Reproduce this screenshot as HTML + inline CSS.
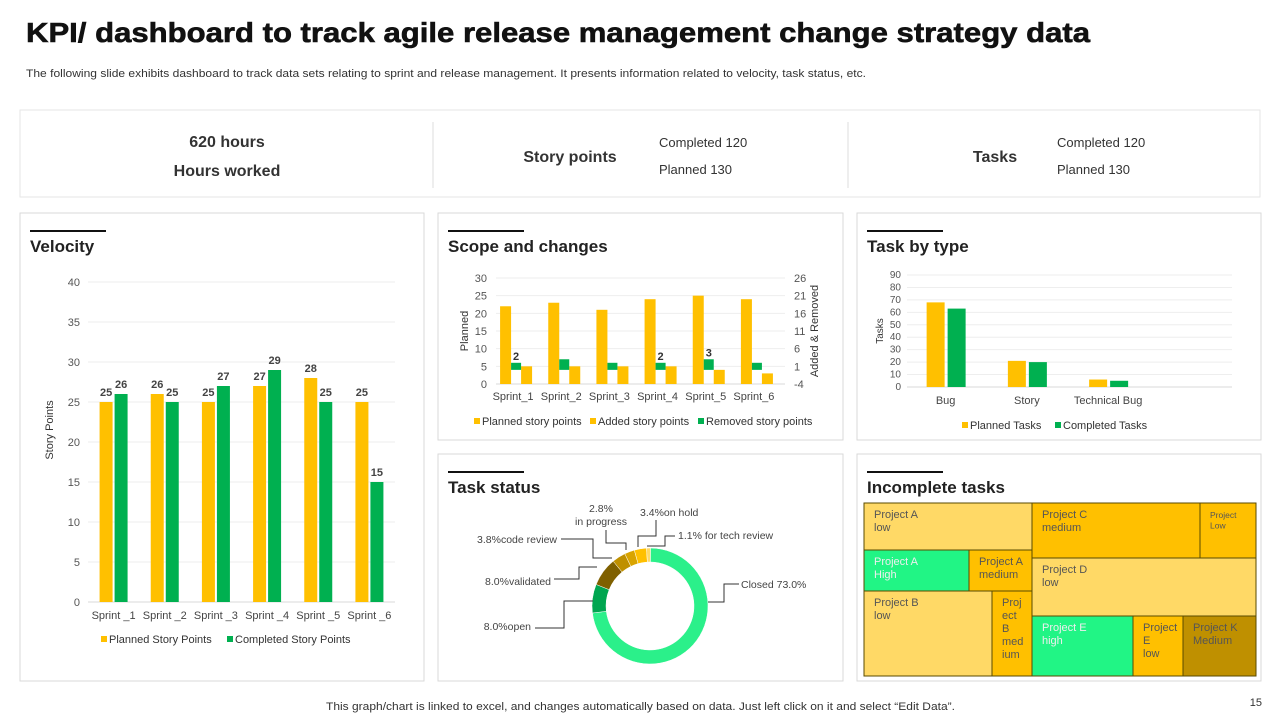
<!DOCTYPE html>
<html><head><meta charset="utf-8"><style>
body{margin:0;width:1280px;height:720px;background:#fff;font-family:"Liberation Sans",sans-serif;overflow:hidden}
svg text{font-family:"Liberation Sans",sans-serif}
</style></head><body>
<svg id="s" width="1280" height="720" viewBox="0 0 1280 720" xmlns="http://www.w3.org/2000/svg">
<text x="26" y="42" font-size="28" font-weight="bold" fill="#111" textLength="1064" lengthAdjust="spacingAndGlyphs" stroke="#111" stroke-width="0.6">KPI/ dashboard to track agile release management change strategy data</text>
<text x="26" y="77" font-size="11" fill="#333" textLength="840" lengthAdjust="spacingAndGlyphs">The following slide exhibits  dashboard to track data sets relating to sprint and release management. It presents information related to velocity, task status, etc.</text>
<g>
<rect x="20" y="110" width="1240" height="87" fill="#fff" stroke="#e6e6e6"/>
<line x1="433" y1="122" x2="433" y2="188" stroke="#ddd"/><line x1="848" y1="122" x2="848" y2="188" stroke="#ddd"/>
<text x="227" y="147" font-size="16" font-weight="bold" fill="#333" text-anchor="middle">620 hours</text>
<text x="227" y="176" font-size="16" font-weight="bold" fill="#333" text-anchor="middle">Hours worked</text>
<text x="570" y="162" font-size="16" font-weight="bold" fill="#333" text-anchor="middle">Story points</text>
<text x="659" y="147" font-size="13" fill="#333">Completed  120</text>
<text x="659" y="174" font-size="13" fill="#333">Planned  130</text>
<text x="995" y="162" font-size="16" font-weight="bold" fill="#333" text-anchor="middle">Tasks</text>
<text x="1057" y="147" font-size="13" fill="#333">Completed  120</text>
<text x="1057" y="174" font-size="13" fill="#333">Planned  130</text>
</g>
<g id="panels"></g>
<g id="charts"></g>
<text x="326" y="710" font-size="11" fill="#333" textLength="629" lengthAdjust="spacingAndGlyphs">This graph/chart is linked to excel, and changes automatically based on data. Just left click on it and select “Edit Data”.</text>
<text x="1262" y="706" font-size="11" fill="#333" text-anchor="end">15</text>
</svg>
<script>
const NS="http://www.w3.org/2000/svg";
function mk(parent,tag,attrs,txt){const e=document.createElementNS(NS,tag);for(const k in attrs)e.setAttribute(k,attrs[k]);if(txt!==undefined)e.textContent=txt;parent.appendChild(e);return e;}
const P=document.getElementById('panels'),C=document.getElementById('charts');
const YEL="#FFC000",GRN="#00B050";
// velocity data
const velCats=["Sprint _1","Sprint _2","Sprint _3","Sprint _4","Sprint _5","Sprint _6"];
const velPlanned=[25,26,25,27,28,25];
const velCompleted=[26,25,27,29,25,15];
const velTicks=[0,5,10,15,20,25,30,35,40];
// scope data
const scopeCats=["Sprint_1","Sprint_2","Sprint_3","Sprint_4","Sprint_5","Sprint_6"];
const scopePlanned=[22,23,21,24,25,24];
const scopeAdded=[5,5,5,5,4,3];
const scopeRemoved=[2,3,2,2,3,2];
const scopeLabels=["2","","","2","3",""];
const scopeLeftTicks=[0,5,10,15,20,25,30];
const scopeRightTicks=[-4,1,6,11,16,21,26];
// task type
const typeCats=["Bug","Story","Technical Bug",""];
const typePlanned=[68,21,6,0];
const typeCompleted=[63,20,5,0];
const typeTicks=[0,10,20,30,40,50,60,70,80,90];
// task status
const statusNames=["Closed","open","validated","code review","in progress","on hold","for tech review"];
const statusValues=[73.0,8.0,8.0,3.8,2.8,3.4,1.1];
const statusColors=["#2BF08A","#00A650","#7F6000","#BF9000","#D9A400","#FFC000","#FFD966"];

const panels=[["velocity-panel",20,213,404,468,"Velocity"],["scope-panel",438,213,405,227,"Scope and changes"],["task-type-panel",857,213,404,227,"Task by type"],["task-status-panel",438,454,405,227,"Task status"],["incomplete-panel",857,454,404,227,"Incomplete tasks"]];
panels.forEach(p=>{const g=mk(P,'g',{});

mk(g,'rect',{x:p[1],y:p[2],width:p[3],height:p[4],fill:'#fff',stroke:'#d9d9d9'});
mk(g,'line',{x1:p[1]+10,y1:p[2]+18,x2:p[1]+86,y2:p[2]+18,stroke:'#111','stroke-width':2});
const t=mk(g,'text',{x:p[1]+10,y:p[2]+39,'font-size':17,'font-weight':'bold',fill:'#222'},p[5]);
});

function legendItem(g,x,y,col,label,name){const r=mk(g,'rect',{x:x,y:y-7,width:6,height:6,fill:col});

const t=mk(g,'text',{x:x+8,y:y,'font-size':11,fill:'#333'},label);}

// Velocity
(function(){const g=mk(C,'g',{});
const y0=602,x0=88,x1=395,max=40,ppu=(602-282)/max;const y=v=>y0-v*ppu;const bw=(x1-x0)/velCats.length;
velTicks.forEach(t=>{mk(g,'line',{x1:x0,x2:x1,y1:y(t),y2:y(t),stroke:t?'#eee':'#d9d9d9'});const l=mk(g,'text',{x:80,y:y(t)+4,'font-size':11,fill:'#555','text-anchor':'end'},t);});
const at=mk(g,'text',{transform:'translate(53,430) rotate(-90)','font-size':11,fill:'#333','text-anchor':'middle'},'Story Points');
velCats.forEach((c,i)=>{const cx=x0+bw*(i+0.5);
const b1=mk(g,'rect',{x:cx-14,y:y(velPlanned[i]),width:13,height:y0-y(velPlanned[i]),fill:YEL});
const b2=mk(g,'rect',{x:cx+1,y:y(velCompleted[i]),width:13,height:y0-y(velCompleted[i]),fill:GRN});
const l1=mk(g,'text',{x:cx-7.5,y:y(velPlanned[i])-6,'font-size':11,'font-weight':'bold',fill:'#444','text-anchor':'middle'},velPlanned[i]);
const l2=mk(g,'text',{x:cx+7.5,y:y(velCompleted[i])-6,'font-size':11,'font-weight':'bold',fill:'#444','text-anchor':'middle'},velCompleted[i]);
const xl=mk(g,'text',{x:cx,y:619,'font-size':11,fill:'#444','text-anchor':'middle'},c);});
legendItem(g,101,643,YEL,'Planned Story Points','velocity-legend-planned');legendItem(g,227,643,GRN,'Completed Story Points','velocity-legend-completed');})();

// Scope
(function(){const g=mk(C,'g',{});
const y0=384,top=278,x0=496,x1=785;const yl=v=>y0-v*(y0-top)/30;const yr=v=>y0-(v+4)*(y0-top)/30;const bw=(x1-x0)/scopeCats.length;
scopeLeftTicks.forEach(t=>{mk(g,'line',{x1:x0,x2:x1,y1:yl(t),y2:yl(t),stroke:t?'#eee':'#d9d9d9'});const l=mk(g,'text',{x:487,y:yl(t)+4,'font-size':11,fill:'#555','text-anchor':'end'},t);});
scopeRightTicks.forEach(t=>{const l=mk(g,'text',{x:794,y:yr(t)+4,'font-size':11,fill:'#555'},t);});
const a1=mk(g,'text',{transform:'translate(468,331) rotate(-90)','font-size':11,fill:'#333','text-anchor':'middle'},'Planned');
const a2=mk(g,'text',{transform:'translate(818,331) rotate(-90)','font-size':11,fill:'#333','text-anchor':'middle'},'Added & Removed');
scopeCats.forEach((c,i)=>{const cx=x0+bw*(i+0.5)-4;
const b1=mk(g,'rect',{x:cx-16,y:yl(scopePlanned[i]),width:11,height:y0-yl(scopePlanned[i]),fill:YEL});
const b2=mk(g,'rect',{x:cx+5,y:yl(scopeAdded[i]),width:11,height:y0-yl(scopeAdded[i]),fill:YEL});
const b3=mk(g,'rect',{x:cx-5,y:yr(scopeRemoved[i]),width:10,height:yr(0)-yr(scopeRemoved[i]),fill:GRN});
if(scopeLabels[i]){const l=mk(g,'text',{x:cx,y:yr(scopeRemoved[i])-3,'font-size':11,'font-weight':'bold',fill:'#333','text-anchor':'middle'},scopeLabels[i]);}
const xl=mk(g,'text',{x:cx-3,y:400,'font-size':11,fill:'#444','text-anchor':'middle'},c);});
legendItem(g,474,425,YEL,'Planned story points','scope-legend-planned');legendItem(g,590,425,YEL,'Added story points','scope-legend-added');legendItem(g,698,425,GRN,'Removed story points','scope-legend-removed');})();

// Task by type
(function(){const g=mk(C,'g',{});
const y0=387,top=275,x0=907,x1=1232;const y=v=>y0-v*(y0-top)/90;const bw=(x1-x0)/typeCats.length;
typeTicks.forEach(t=>{mk(g,'line',{x1:x0,x2:x1,y1:y(t),y2:y(t),stroke:t?'#eee':'#d9d9d9'});const l=mk(g,'text',{x:901,y:y(t)+3,'font-size':10,fill:'#555','text-anchor':'end'},t);});
const a=mk(g,'text',{transform:'translate(883,331) rotate(-90)','font-size':10,fill:'#333','text-anchor':'middle'},'Tasks');
typeCats.forEach((c,i)=>{const cx=x0+bw*(i+0.5)-2;
const b1=mk(g,'rect',{x:cx-19,y:y(typePlanned[i]),width:18,height:y0-y(typePlanned[i]),fill:YEL});
const b2=mk(g,'rect',{x:cx+2,y:y(typeCompleted[i]),width:18,height:y0-y(typeCompleted[i]),fill:GRN});
const xl=mk(g,'text',{x:cx,y:404,'font-size':11,fill:'#444','text-anchor':'middle'},c);});
legendItem(g,962,429,YEL,'Planned Tasks','type-legend-planned');legendItem(g,1055,429,GRN,'Completed Tasks','type-legend-completed');})();

// Task status donut
(function(){const g=mk(C,'g',{});
const cx=650,cy=606,R=58,r=44;const tot=statusValues.reduce((a,b)=>a+b,0);let a=0.5;
const pt=(ang,rad)=>[cx+rad*Math.sin(ang*Math.PI/180),cy-rad*Math.cos(ang*Math.PI/180)];
statusValues.forEach((v,i)=>{const s=a,e=a+v/tot*360;a=e;const lg=e-s>180?1:0;
const [x1,y1]=pt(s,R),[x2,y2]=pt(e,R),[x3,y3]=pt(e,r),[x4,y4]=pt(s,r);
const p=mk(g,'path',{d:`M${x1},${y1}A${R},${R} 0 ${lg} 1 ${x2},${y2}L${x3},${y3}A${r},${r} 0 ${lg} 0 ${x4},${y4}Z`,fill:statusColors[i],stroke:'#fff','stroke-width':0.5});
});
const labels=[["Closed 73.0%",741,588,"start"],["8.0%open",531,630,"end"],["8.0%validated",551,585,"end"],["3.8%code review",557,543,"end"],["2.8%",601,512,"middle"],["in progress",601,525,"middle"],["3.4%on hold",640,516,"start"],["1.1% for tech review",678,539,"start"]];
labels.forEach(l=>{const t=mk(g,'text',{x:l[1],y:l[2],'font-size':10.5,fill:'#444','text-anchor':l[3]},l[0]);});
const lines=["M708,602 L724,602 L724,584 L739,584","M593,601 L564,601 L564,628 L535,628","M597,567 L579,567 L579,579 L554,579","M612,558 L593,558 L593,539 L561,539","M626,550 L626,543 L606,543 L606,530","M638,547 L638,536 L656,536 L656,520","M647,546 L665,546 L665,536 L675,536"];
lines.forEach(d=>{const p=mk(g,'path',{d:d,fill:'none',stroke:'#333','stroke-width':1});});})();

// Treemap
(function(){const g=mk(C,'g',{});
const L="#FFD966",O="#FFC000",G="#21F585",D="#BF9000";
const cells=[["Project A|low",864,503,1032,550,L,"#555",11],["Project A|High",864,550,969,591,G,"#eee",11],["Project A|medium",969,550,1032,591,O,"#555",11],["Project B|low",864,591,992,676,L,"#555",11],["Proj|ect|B|med|ium",992,591,1032,676,O,"#555",11],["Project C|medium",1032,503,1200,558,O,"#555",11],["Project|Low",1200,503,1256,558,O,"#555",8.5],["Project D|low",1032,558,1256,616,L,"#555",11],["Project E|high",1032,616,1133,676,G,"#eee",11],["Project|E|low",1133,616,1183,676,O,"#555",11],["Project K|Medium",1183,616,1256,676,D,"#555",11]];
cells.forEach(c=>{const r=mk(g,'rect',{x:c[1],y:c[2],width:c[3]-c[1],height:c[4]-c[2],fill:c[5],stroke:'#5a4a00','stroke-width':1});

const lines=c[0].split('|');const t=mk(g,'text',{'font-size':c[7],fill:c[6]});
lines.forEach((s,j)=>{mk(t,'tspan',{x:c[1]+10,y:c[2]+15+j*(c[7]+2)},s);});});})();
</script>
</body></html>
